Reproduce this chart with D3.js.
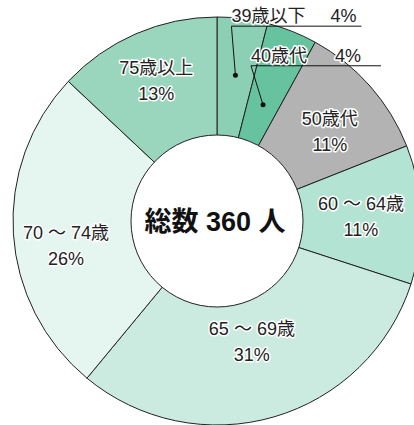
<!DOCTYPE html>
<html>
<head>
<meta charset="utf-8">
<script src="https://cdn.jsdelivr.net/npm/d3@7"></script>
<style>
  body { margin: 0; background: #fff; }
  svg text { font-family: "Liberation Sans", "Noto Sans CJK JP", sans-serif; }
</style>
</head>
<body>
<div class="donut-container"></div>
<script>
// chart data (percent of 360 people)
const categories = ['39歳以下', '40歳代', '50歳代', '60 ～ 64歳', '65 ～ 69歳', '70 ～ 74歳', '75歳以上'];
const percents = [4, 4, 11, 11, 31, 26, 13];
const totalLabel = '総数 360 人';

// styles / layout
const colors = ['#8bd0b4', '#66c29f', '#b3b3b3', '#b3e3d2', '#cbebe0', '#e5f5ef', '#9ad6be'];
const labelRadius = [147, 125, 144, 144, 125, 153, 153];
const labelTurn = [0, 0, 3, 0, 0, -5.5, 0]; // degrees
const callout = [true, true, false, false, false, false, false];
const calloutShift = [[-4, -49], [-12, -39]];
const calloutPctEnd = [125, 110];

const width = 414, height = 425;
const cx = 217, cy = 221;
const outerR = 204, innerR = 86;

const svg = d3.select('.donut-container')
  .append('svg')
  .attr('width', width)
  .attr('height', height);

const g = svg.append('g')
  .attr('transform', `translate(${cx}, ${cy})`);

const data = categories.map((c, i) => ({name: c, value: percents[i], i}));

const pie = d3.pie()
  .sort(null)
  .value(d => d.value);

const arcs = pie(data);

const arc = d3.arc()
  .innerRadius(0)
  .outerRadius(outerR);

// slices
g.selectAll('.slice')
  .data(arcs)
  .join('path')
  .attr('class', 'slice')
  .attr('d', arc)
  .attr('fill', d => colors[d.data.i])
  .attr('stroke', '#222')
  .attr('stroke-width', 1);

// center hole
g.append('circle')
  .attr('r', innerR)
  .attr('fill', '#fff')
  .attr('stroke', '#222')
  .attr('stroke-width', 1);

g.append('text')
  .attr('text-anchor', 'middle')
  .attr('x', -2)
  .attr('dy', '0.36em')
  .style('font-size', '27px')
  .style('font-weight', 'bold')
  .attr('fill', '#111')
  .text(totalLabel);

function polar(a, r) {
  return [Math.sin(a) * r, -Math.cos(a) * r];
}

// in-slice labels
arcs.filter(d => !callout[d.data.i]).forEach(d => {
  const mid = (d.startAngle + d.endAngle) / 2 + labelTurn[d.data.i] * Math.PI / 180;
  const [x, y] = polar(mid, labelRadius[d.data.i]);
  const t = g.append('text')
    .attr('text-anchor', 'middle')
    .attr('x', x)
    .attr('y', y)
    .style('font-size', '18px')
    .attr('fill', '#222')
    .attr('stroke', '#fff')
    .attr('stroke-width', 3)
    .attr('paint-order', 'stroke')
    .attr('stroke-linejoin', 'round');
  t.append('tspan').attr('x', x).attr('dy', '-0.35em').text(d.data.name);
  t.append('tspan').attr('x', x).attr('dy', '1.45em').text(d.data.value + '%');
});

// callout labels for small slices
arcs.filter(d => callout[d.data.i]).forEach((d, k) => {
  const mid = (d.startAngle + d.endAngle) / 2;
  const [x, y] = polar(mid, labelRadius[d.data.i]);
  const [sx, sy] = [x + calloutShift[k][0], y + calloutShift[k][1]];
  g.append('line')
    .attr('x1', x).attr('y1', y)
    .attr('x2', sx).attr('y2', sy)
    .attr('stroke', '#111');
  g.append('circle')
    .attr('cx', x).attr('cy', y)
    .attr('r', 2.5)
    .attr('fill', '#111');
  g.append('line')
    .attr('x1', sx).attr('y1', sy)
    .attr('x2', sx + 130).attr('y2', sy)
    .attr('stroke', '#111');
  const txt = g.append('g')
    .attr('fill', '#222')
    .attr('stroke', '#fff')
    .attr('stroke-width', 3)
    .attr('paint-order', 'stroke')
    .attr('stroke-linejoin', 'round')
    .style('font-size', '18px');
  txt.append('text')
    .attr('x', sx).attr('y', sy - 4)
    .text(d.data.name);
  txt.append('text')
    .attr('x', sx + calloutPctEnd[k]).attr('y', sy - 4)
    .attr('text-anchor', 'end')
    .text(d.data.value + '%');
});
</script>
</body>
</html>
